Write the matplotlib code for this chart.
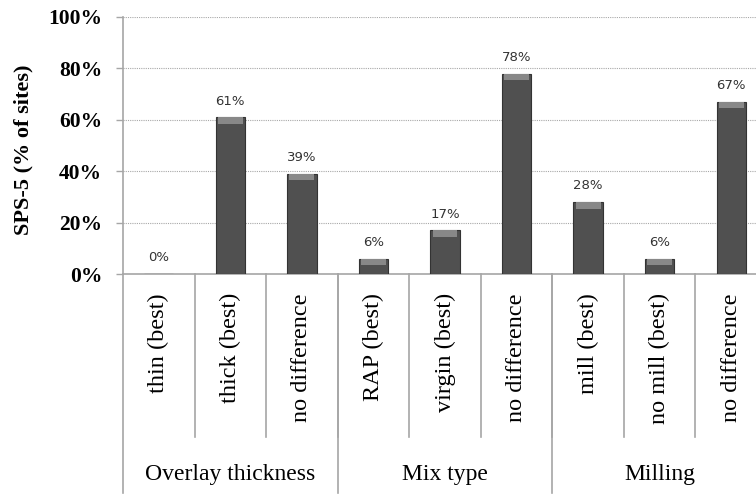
import matplotlib
matplotlib.use('Agg')
import matplotlib.pyplot as plt
import numpy as np

# data
categories = ['thin (best)', 'thick (best)', 'no difference',
              'RAP (best)', 'virgin (best)', 'no difference',
              'mill (best)', 'no mill (best)', 'no difference']
values = [0, 61, 39, 6, 17, 78, 28, 6, 67]
groups = ['Overlay thickness', 'Mix type', 'Milling']
group_sizes = [3, 3, 3]
y_ticks = [0, 20, 40, 60, 80, 100]

serif = 'Liberation Serif'
grid_col = '#a6a6a6'

fig = plt.figure(figsize=(7.56, 4.95), dpi=100)
# plot area runs past the right edge, as in the cropped original
ax = fig.add_axes([123 / 756, 1 - 274 / 495, 644 / 756, 257 / 495])

x = np.arange(len(values))
bar_w = 0.41
ax.bar(x, values, width=bar_w, color='#505050', edgecolor='#333333', linewidth=0.8, zorder=3)
# light bevel on top of each bar
cap = 2.6
for xi, v in zip(x, values):
    if v > 0:
        c = min(cap, v * 0.6)
        ax.bar(xi, c, bottom=v - c, width=bar_w * 0.85, color='#888888', linewidth=0, zorder=4)

for xi, v in zip(x, values):
    ax.annotate(f'{v}%', (xi, v), xytext=(0, 7), textcoords='offset points',
                ha='center', va='bottom', fontsize=9.5, color='#333333')

ax.set_xlim(-0.5, len(values) - 0.5)
ax.set_ylim(0, 100)
ax.set_yticks(y_ticks)
ax.set_yticklabels([f'{t}%' for t in y_ticks], fontfamily=serif, fontweight='bold', fontsize=15.5)
ax.set_xticks([])
ax.tick_params(axis='y', length=5, width=1, color=grid_col, pad=10)
ax.set_axisbelow(True)
ax.yaxis.grid(True, linestyle=(0, (1, 1)), color='#a8a8a8', linewidth=0.8)

for s in ['top', 'right']:
    ax.spines[s].set_visible(False)
ax.spines['left'].set_color(grid_col)
ax.spines['bottom'].set_color(grid_col)
ax.spines['left'].set_linewidth(1.2)
ax.spines['bottom'].set_linewidth(1.2)

trans = ax.get_xaxis_transform()
# separators between categories
for b in np.arange(0.5, len(values) - 0.5, 1.0):
    ax.plot([b, b], [0, -0.634], transform=trans, color=grid_col, lw=1.2, clip_on=False)
# group separators
edges = np.concatenate([[0], np.cumsum(group_sizes)]) - 0.5
for b in edges:
    ax.plot([b, b], [0, -0.852], transform=trans, color=grid_col, lw=1.2, clip_on=False)

for xi, lab in zip(x, categories):
    ax.text(xi, -0.074, lab, transform=trans, rotation=90, ha='center', va='top',
            fontfamily=serif, fontsize=17.5)

for i, g in enumerate(groups):
    gx = (edges[i] + edges[i + 1]) / 2
    ax.text(gx, -0.782, g, transform=trans, ha='center', va='center',
            fontfamily=serif, fontsize=17)

fig.text(23 / 756, 1 - 150 / 495, 'SPS-5 (% of sites)', rotation=90, ha='center', va='center',
         fontfamily=serif, fontweight='bold', fontsize=16)

fig.savefig('out.png', dpi=100)
